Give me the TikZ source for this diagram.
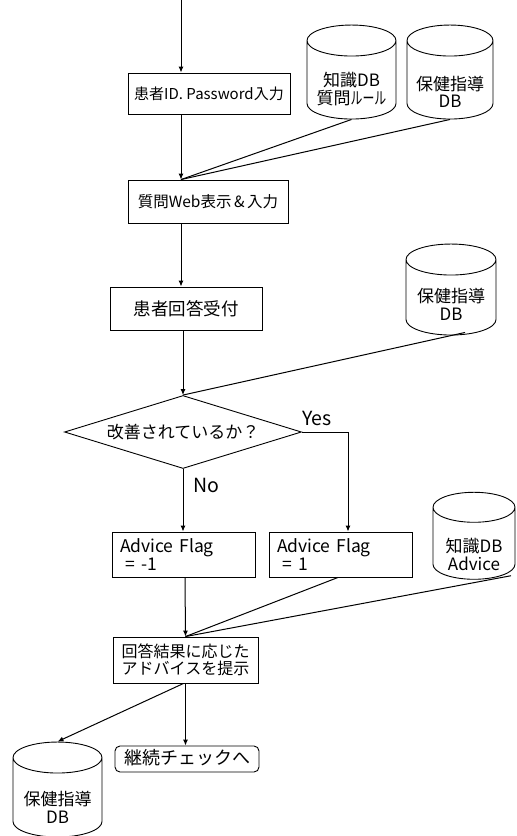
\documentclass[tikz,border=0pt]{standalone}
\usepackage{fontspec}
\setmainfont{Noto Sans CJK JP}
\usetikzlibrary{shapes.geometric,arrows.meta,calc}
\begin{document}
\begin{tikzpicture}[x=1pt,y=-1pt,
  box/.style={draw,line width=0.9pt,inner sep=0pt,font=\fontsize{15}{18}\selectfont},
  flag/.style={box,align=left,text width=127pt,inner xsep=8pt,minimum width=143pt,minimum height=45pt,font=\fontsize{17.5}{16}\selectfont},
  db/.style={cylinder,shape border rotate=90,draw,line width=0.9pt,aspect=0.5,inner sep=0pt},
  dbt/.style={align=center,inner sep=0pt,font=\fontsize{17}{17.5}\selectfont},
  arr/.style={line width=1pt,-{Latex[length=6pt,width=5pt]}},
  ln/.style={line width=1pt},
  lbl/.style={font=\fontsize{19.5}{20}\selectfont,inner sep=0pt}]
\useasboundingbox (0,0) rectangle (517,836);
\clip (0,0) rectangle (517,836);
% process boxes
\node[box,minimum width=162pt,minimum height=41pt] (b1) at (209,93.5) {患者ID. Password入力};
\node[box,minimum width=160pt,minimum height=43pt,font=\fontsize{15.5}{18}\selectfont] (b2) at (208,201.5) {質問Web表示\,\&\,入力};
\node[box,minimum width=152pt,minimum height=43pt,font=\fontsize{17.5}{18}\selectfont] (b3) at (186,308.5) {患者回答受付};
\node[draw,diamond,line width=0.9pt,minimum width=237pt,minimum height=73pt,inner sep=0pt,aspect=3.2,font=\fontsize{17}{18}\selectfont] (d) at (183,432) {改善されているか？};
\node[flag] (f1) at (183.5,554.5) {Advice Flag\\\ = -1};
\node[flag] (f2) at (340.5,554.5) {Advice Flag\\\ = 1};
\node[box,minimum width=145pt,minimum height=46pt,align=center,font=\fontsize{16}{17}\selectfont] (b4) at (185.5,660) {回答結果に応じた\\アドバイスを提示};
\node[box,rounded corners=5pt,minimum width=144pt,minimum height=26pt,text height=13pt,text depth=3pt,font=\fontsize{18}{18}\selectfont] (b5) at (187,759) {継続チェックへ};
% databases
\node[db,minimum width=89pt,minimum height=94pt,label={[dbt,yshift=-9pt]center:知識DB\\質問\scalebox{0.7}[1]{ルール}}] (c1) at (351.5,80) {\hbox to 62pt{}};
\node[db,minimum width=86pt,minimum height=94pt,label={[dbt,yshift=-12pt]center:保健指導\\DB}] (c2) at (450,80) {\hbox to 62pt{}};
\node[db,minimum width=90pt,minimum height=91pt,label={[dbt,yshift=-7pt]center:保健指導\\DB}] (c3) at (451,297.5) {\hbox to 62pt{}};
\node[db,minimum width=82pt,minimum height=87pt,label={[dbt,yshift=-11pt]center:知識DB\\Advice}] (c4) at (474,543.5) {\hbox to 60pt{}};
\node[db,minimum width=89pt,minimum height=95pt,label={[dbt,yshift=-10pt]center:保健指導\\DB}] (c5) at (57.5,797.5) {\hbox to 62pt{}};
% labels
\node[lbl] (yes) at (317,418) {Yes};
\node[lbl] (no) at (206,485) {No};
% connectors
\coordinate (top) at (181,0);
\draw[arr] (top) -- (top |- b1.north);
\draw[arr] (b1.south -| top) -- (b2.north -| top);
\draw[ln] (c1.south) -- (b2.north -| top);
\draw[ln] (c2.south) -- (b2.north -| top);
\draw[arr] (b2.south -| top) -- (b3.north -| top);
\draw[arr] (b3.south -| d.north) -- (d.north);
\draw[ln] ($(c3.south)+(14,-3)$) -- (d.north);
\draw[arr] (d.south) -- (f1.north -| d.south);
\draw[arr] (d.east) -| ($(f2.north)+(7.5,0)$);
\draw[arr] ($(f1.south)+(1.5,0)$) -- (b4.north);
\draw[ln] ($(f2.south)+(-2.5,0)$) -- (b4.north);
\draw[ln] ($(c4.south)+(37,-4)$) -- (b4.north);
\draw[arr] (b4.south) -- (b5.north -| b4.south);
\draw[arr] ($(b4.south)+(-2,0)$) -- (c5.north);
\end{tikzpicture}
\end{document}
